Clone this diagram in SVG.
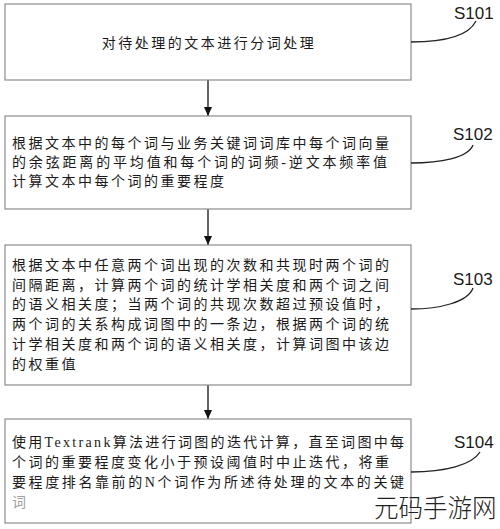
<svg xmlns="http://www.w3.org/2000/svg" width="500" height="529" viewBox="0 0 500 529">
<style>
.box{fill:#fff;stroke:#8c8c8c;stroke-width:1.2}
.t{font-family:"Liberation Serif","Noto Sans CJK SC",serif;font-size:14px;fill:#1a1a1a;letter-spacing:2.5px}
.lbl{font-family:"Liberation Sans",Arial,sans-serif;font-size:17px;fill:#1a1a1a}
.conn{fill:none;stroke:#111;stroke-width:1.3}
.lead{fill:none;stroke:#222;stroke-width:1.3}
.wm{font-family:"Noto Sans CJK SC",sans-serif;font-size:24.5px;font-weight:300;fill:#222}
</style>
<defs>
<marker id="ah" markerUnits="userSpaceOnUse" markerWidth="10" markerHeight="10" refX="9" refY="4" orient="auto">
<path d="M0,0 L9,4 L0,8 z" fill="#111"/>
</marker>
</defs>
<rect width="500" height="529" fill="#fff"/>
<g id="connectors">
<line class="conn" x1="208" y1="80" x2="208" y2="116" marker-end="url(#ah)"/>
<line class="conn" x1="208" y1="209" x2="208" y2="245" marker-end="url(#ah)"/>
<line class="conn" x1="208" y1="385" x2="208" y2="419" marker-end="url(#ah)"/>
</g>
<g id="S101">
<rect class="box" x="5" y="4" width="406" height="76"/>
<text class="t" x="209" y="47.5" text-anchor="middle">对待处理的文本进行分词处理</text>
<path class="lead" d="M411,42 C440,42 468,37 476,21"/>
<text class="lbl" x="454" y="19">S101</text>
</g>
<g id="S102">
<rect class="box" x="5" y="116" width="406" height="93"/>
<text class="t" x="12" y="148.3">根据文本中的每个词与业务关键词词库中每个词向量</text>
<text class="t" x="12" y="167.3" textLength="375" lengthAdjust="spacing" style="letter-spacing:0">的余弦距离的平均值和每个词的词频-逆文本频率值</text>
<text class="t" x="12" y="186.3">计算文本中每个词的重要程度</text>
<path class="lead" d="M411,163 C440,163 468,158 473,145"/>
<text class="lbl" x="453" y="140">S102</text>
</g>
<g id="S103">
<rect class="box" x="5" y="245" width="406" height="140"/>
<text class="t" x="12" y="270.3">根据文本中任意两个词出现的次数和共现时两个词的</text>
<text class="t" x="12" y="289.5">间隔距离，计算两个词的统计学相关度和两个词之间</text>
<text class="t" x="12" y="309.3">的语义相关度；当两个词的共现次数超过预设值时，</text>
<text class="t" x="12" y="329.3">两个词的关系构成词图中的一条边，根据两个词的统</text>
<text class="t" x="12" y="349.3">计学相关度和两个词的语义相关度，计算词图中该边</text>
<text class="t" x="12" y="369.3">的权重值</text>
<path class="lead" d="M411,309 C440,309 468,302 473,288"/>
<text class="lbl" x="453" y="285">S103</text>
</g>
<g id="S104">
<rect class="box" x="5" y="419" width="406" height="104"/>
<text class="t" x="12" y="447" textLength="392" lengthAdjust="spacing" style="letter-spacing:0">使用Textrank算法进行词图的迭代计算，直至词图中每</text>
<text class="t" x="12" y="467">个词的重要程度变化小于预设阈值时中止迭代，将重</text>
<text class="t" x="12" y="487" textLength="392" lengthAdjust="spacing" style="letter-spacing:0">要程度排名靠前的N个词作为所述待处理的文本的关键</text>
<text class="t" x="12" y="507" style="fill:#a0a0a0">词</text>
<path class="lead" d="M411,472 C445,472 472,465 480,452"/>
<text class="lbl" x="454" y="448">S104</text>
</g>
<text class="wm" x="374" y="517">元码手游网</text>
</svg>
